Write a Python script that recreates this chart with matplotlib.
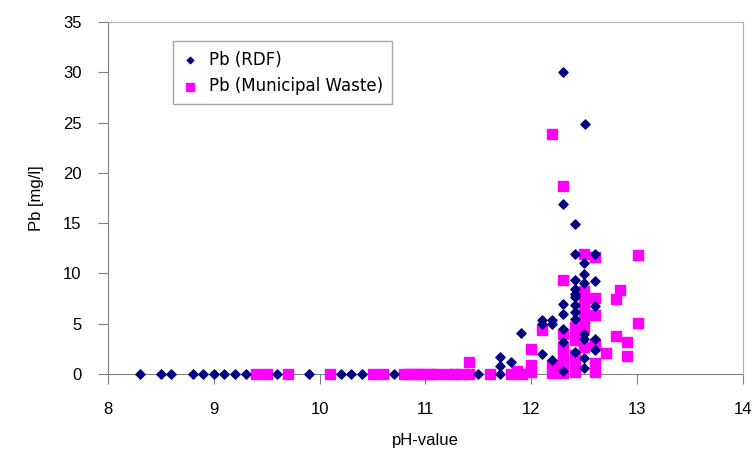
import matplotlib.pyplot as plt

plt.rcParams['font.family'] = ['Liberation Sans', 'DejaVu Sans']

# Pb (RDF) - pH value and Pb concentration
rdf_ph = [8.3, 8.5, 8.6, 8.8, 8.9, 9.0, 9.1, 9.2, 9.3, 9.6, 9.9, 10.2, 10.3, 10.4, 10.7,
          11.5, 11.7, 11.7, 11.7, 11.81, 11.9, 12.1, 12.1, 12.1, 12.2, 12.2, 12.2,
          12.3, 12.3, 12.3, 12.3, 12.3, 12.3, 12.41, 12.41, 12.41, 12.41, 12.41, 12.41,
          12.41, 12.41, 12.41, 12.5, 12.5, 12.5, 12.5, 12.5, 12.5, 12.5, 12.51,
          12.6, 12.6, 12.6, 12.6, 12.6, 12.3, 12.41]
rdf_pb = [0, 0, 0, 0, 0, 0, 0, 0, 0, 0, 0, 0, 0, 0, 0,
          0, 0, 0.8, 1.7, 1.2, 4.1, 5.4, 5.0, 2.0, 5.4, 5.0, 1.4,
          30.0, 16.9, 7.0, 6.0, 3.2, 0.3, 14.9, 11.9, 9.3, 8.5, 7.7, 6.9,
          6.2, 5.5, 2.2, 11.0, 9.9, 9.0, 4.0, 3.5, 1.6, 0.6, 24.9,
          11.9, 9.2, 6.8, 3.5, 2.4, 4.5, 8.0]

# Pb (Municipal Waste)
msw_ph = [9.4, 9.5, 9.7, 10.1, 10.5, 10.6, 10.8, 10.85, 10.9, 10.95, 11.0, 11.05, 11.1,
          11.2, 11.27, 11.34, 11.41, 11.41, 11.61, 11.81, 11.86, 11.91, 12.0, 12.0, 12.0,
          12.1, 12.2, 12.2, 12.2, 12.3, 12.3, 12.3, 12.3, 12.3, 12.3, 12.3, 12.3,
          12.41, 12.41, 12.41, 12.41, 12.41, 12.41, 12.5, 12.5, 12.5, 12.5, 12.5, 12.5,
          12.5, 12.5, 12.6, 12.6, 12.6, 12.6, 12.6, 12.6, 12.71, 12.8, 12.8, 12.84,
          12.9, 12.9, 13.01, 13.01]
msw_pb = [0, 0, 0, 0, 0, 0, 0, 0, 0, 0, 0, 0, 0,
          0, 0, 0, 0, 1.2, 0, 0, 0.3, 0, 2.5, 0.9, 0.2,
          4.4, 23.9, 0.9, 0.1, 18.7, 9.3, 4.0, 2.7, 2.1, 1.2, 0.1, 0.5,
          4.7, 4.0, 3.4, 1.9, 1.1, 0.2, 11.9, 8.3, 6.8, 6.0, 5.4, 4.7,
          2.7, 7.3, 11.6, 7.6, 5.9, 3.0, 1.1, 0.2, 2.1, 7.5, 3.8, 8.4,
          3.2, 1.8, 11.8, 5.1]

x_ticks = [8, 9, 10, 11, 12, 13, 14]
y_ticks = [0, 5, 10, 15, 20, 25, 30, 35]

fig = plt.figure(figsize=(7.53, 4.59), dpi=100)
ax = fig.add_axes([0.1434, 0.1852, 0.8433, 0.7668])

ax.scatter(rdf_ph, rdf_pb, marker='D', s=22, color='#000080', label='Pb (RDF)',
           zorder=3, clip_on=False)
ax.scatter(msw_ph, msw_pb, marker='s', s=55, color='#FF00FF', label='Pb (Municipal Waste)',
           zorder=2, clip_on=False)

ax.set_xlim(8, 14)
ax.set_ylim(0, 35)
ax.set_xticks(x_ticks)
ax.set_yticks(y_ticks)
ax.tick_params(direction='out', length=7, color='#808080', labelsize=12)
ax.tick_params(axis='x', pad=13)
ax.tick_params(axis='y', pad=12)

for side in ['top', 'right']:
    ax.spines[side].set_color('#b0b0b0')
for side in ['left', 'bottom']:
    ax.spines[side].set_color('#808080')
    ax.spines[side].set_zorder(1)

ax.set_xlabel('pH-value', fontsize=12, labelpad=12)
ax.set_ylabel('Pb [mg/l]', fontsize=12, labelpad=14)

leg = ax.legend(loc='upper left', bbox_to_anchor=(0.102, 0.945), frameon=True, fancybox=False,
                edgecolor='#909090', handletextpad=0.6, borderpad=0.55,
                labelspacing=0.5, handlelength=1.0, markerscale=0.7, borderaxespad=0,
                prop={'family': 'DejaVu Sans', 'size': 12})
leg.get_frame().set_linewidth(1.0)

plt.savefig('out.png', dpi=100)
